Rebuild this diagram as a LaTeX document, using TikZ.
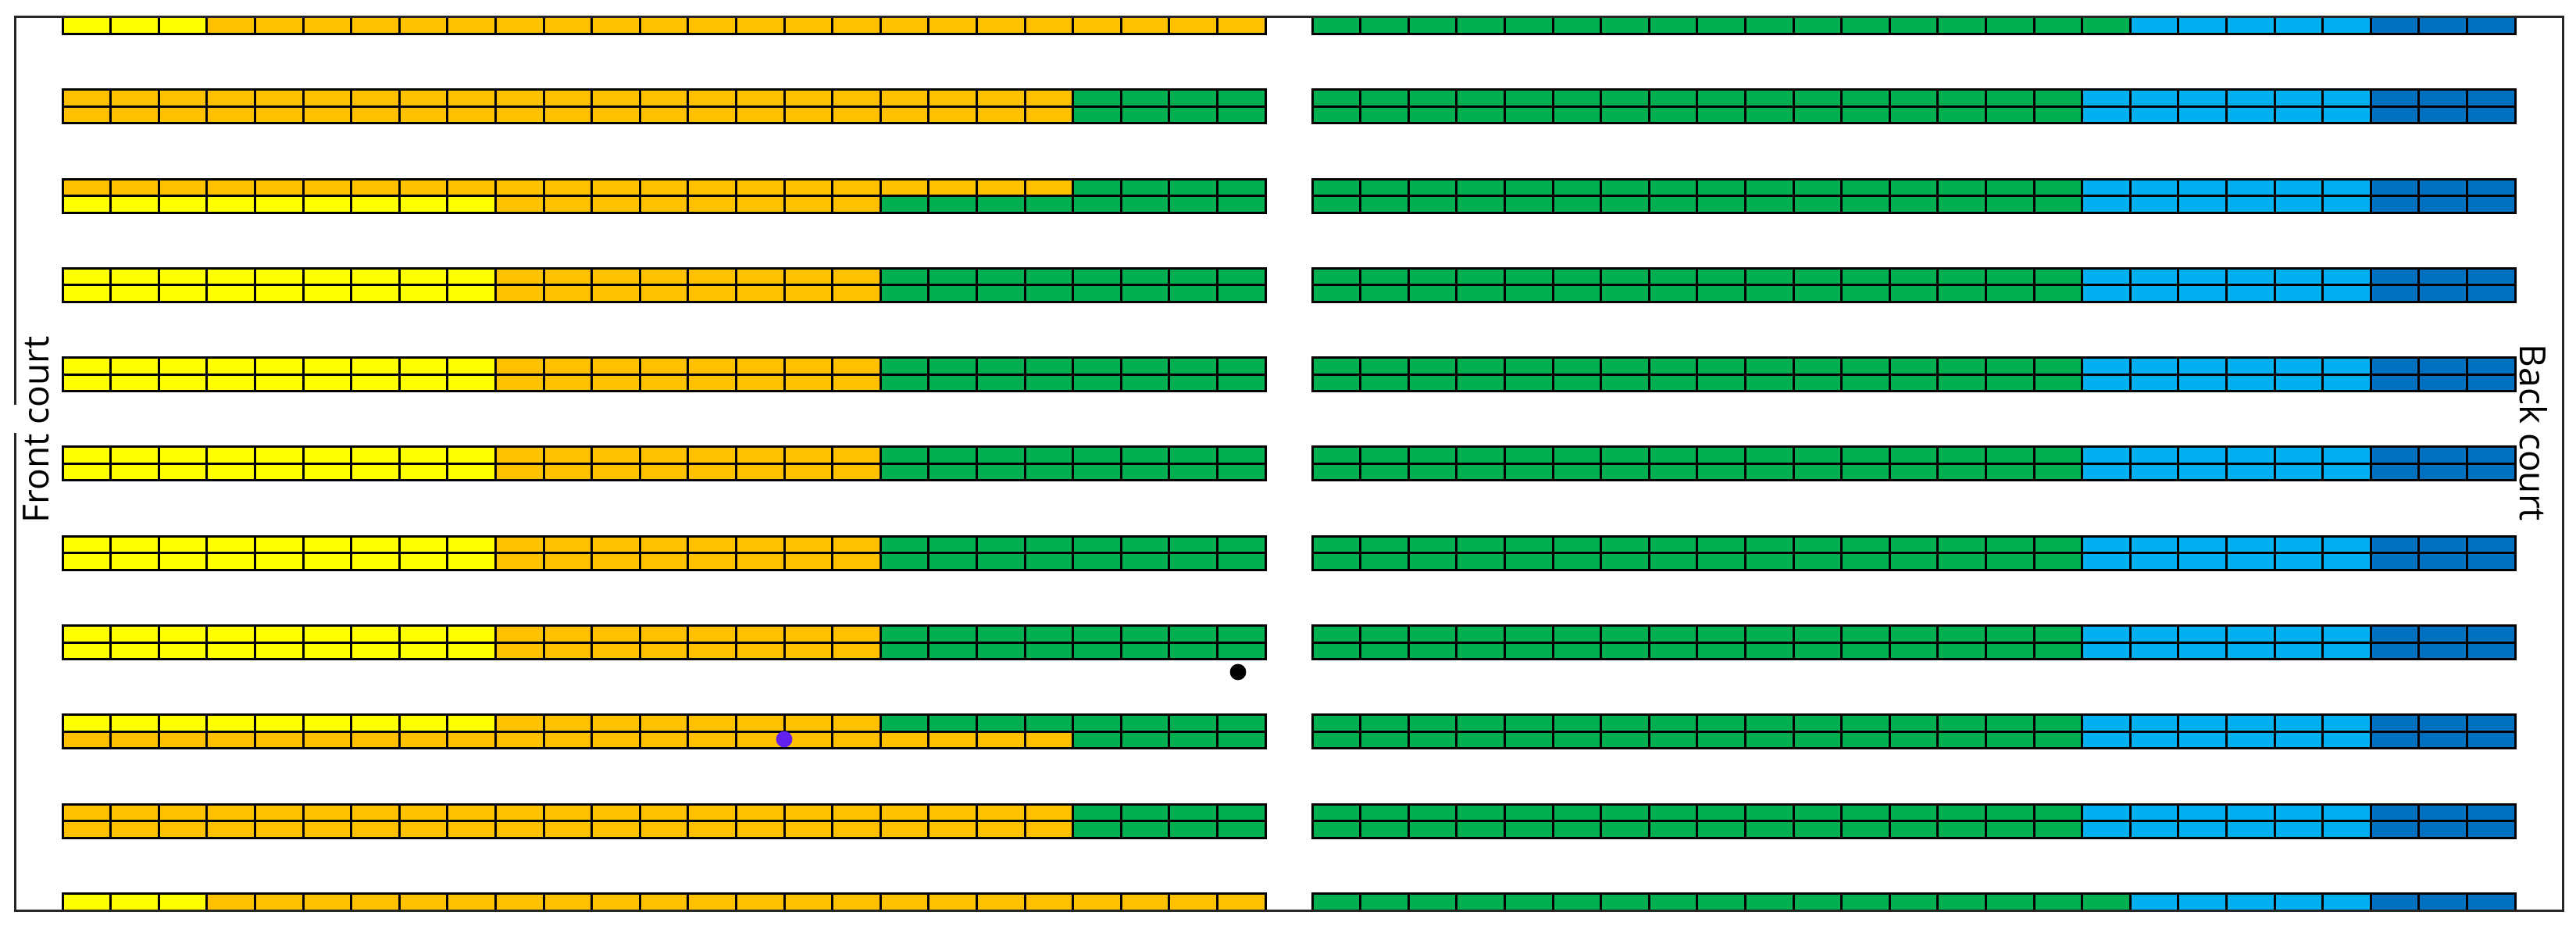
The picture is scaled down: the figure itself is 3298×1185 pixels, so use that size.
\documentclass[tikz,border=0pt]{standalone}
\usepackage{fontspec}
\setmainfont{Open Sans}
\definecolor{cy}{HTML}{FFFF00}
\definecolor{co}{HTML}{FFC000}
\definecolor{cg}{HTML}{00B050}
\definecolor{cl}{HTML}{00B0F0}
\definecolor{cd}{HTML}{0070C0}
\definecolor{cp}{RGB}{96,32,240}
\tikzset{
  cellbox/.style={draw=black, line width=0.75pt},
  courtline/.style={draw=black!85, line width=0.75pt},
  courtlabel/.style={font=\fontsize{11.5}{14}\selectfont, inner sep=0pt},
  dotmark/.style={circle, inner sep=0pt, minimum size=5.2pt, draw=none},
}
% patterns: start/count/colour
\def\pA{0/3/cy,3/22/co}
\def\pB{0/21/co,21/4/cg}
\def\pC{0/9/cy,9/8/co,17/8/cg}
\def\rA{0/17/cg,17/5/cl,22/3/cd}
\def\rB{0/16/cg,16/6/cl,22/3/cd}
\newcommand\cellrun[5]{%
  \foreach \i in {1,...,#4}{%
    \draw[cellbox, fill=#5] ({#1+(#3+\i-1)*61.6}, #2) rectangle ++(61.6, 21.5);
  }}
\newcommand\subrow[3]{%
  \foreach \s/\n/\c in #2 {\cellrun{80}{#1}{\s}{\n}{\c}}
  \foreach \s/\n/\c in #3 {\cellrun{1680}{#1}{\s}{\n}{\c}}}
\begin{document}
\begin{tikzpicture}[x=0.25pt, y=-0.25pt]
\useasboundingbox (0,0) rectangle (3298,1185);
% rows of cells
\subrow{22}{\pA}{\rA}
\subrow{114.8}{\pB}{\rB}
\subrow{136.3}{\pB}{\rB}
\subrow{229.1}{\pB}{\rB}
\subrow{250.6}{\pC}{\rB}
\subrow{343.4}{\pC}{\rB}
\subrow{364.9}{\pC}{\rB}
\subrow{457.7}{\pC}{\rB}
\subrow{479.2}{\pC}{\rB}
\subrow{572}{\pC}{\rB}
\subrow{593.5}{\pC}{\rB}
\subrow{686.3}{\pC}{\rB}
\subrow{707.8}{\pC}{\rB}
\subrow{800.6}{\pC}{\rB}
\subrow{822.1}{\pC}{\rB}
\subrow{914.9}{\pC}{\rB}
\subrow{936.4}{\pB}{\rB}
\subrow{1029.2}{\pB}{\rB}
\subrow{1050.7}{\pB}{\rB}
\subrow{1143.5}{\pA}{\rA}
% court outline
\draw[courtline] (19,518) -- (19,22) -- (3281,22) -- (3281,1165) -- (19,1165) -- (19,554);
% labels
\node[courtlabel, rotate=90] (front) at (46,550) {Front court};
\node[courtlabel, rotate=-90] (back) at (3244,554) {Back court};
% dots
\node[dotmark, fill=black] (blackdot) at (1585,860) {};
\node[dotmark, fill=cp] (purpledot) at (1004,946) {};
\end{tikzpicture}
\end{document}
